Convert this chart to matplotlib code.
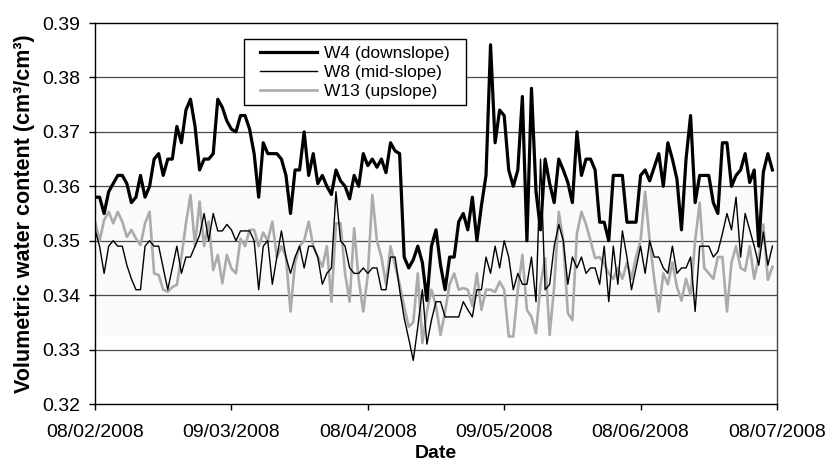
import matplotlib
matplotlib.use("Agg")
import matplotlib.pyplot as plt
import numpy as np
from matplotlib.patches import Rectangle

plt.rcParams['font.family'] = ['Liberation Sans', 'DejaVu Sans']

# daily soil moisture readings, 08/02/2008 - 07/07/2008
date_labels = ['08/02/2008', '09/03/2008', '08/04/2008',
               '09/05/2008', '08/06/2008', '08/07/2008']
label_days = [0, 30, 60, 90, 120, 150]

w4 = [0.358, 0.358, 0.355, 0.359, 0.3605, 0.362, 0.362, 0.3605, 0.357, 0.358,
      0.362, 0.358, 0.360, 0.365, 0.366, 0.362, 0.365, 0.365, 0.371, 0.368,
      0.374, 0.376, 0.371, 0.363, 0.365, 0.365, 0.366, 0.376, 0.3745, 0.372,
      0.3705, 0.370, 0.373, 0.373, 0.3705, 0.366, 0.358, 0.368, 0.366, 0.366,
      0.366, 0.365, 0.362, 0.355, 0.363, 0.363, 0.370, 0.362, 0.366, 0.3605,
      0.362, 0.360, 0.3585, 0.363, 0.361, 0.360, 0.3577, 0.362, 0.360, 0.366,
      0.3638, 0.365, 0.3635, 0.365, 0.3625, 0.368, 0.3665, 0.366, 0.347, 0.345,
      0.3465, 0.349, 0.346, 0.339, 0.349, 0.352, 0.3455, 0.341, 0.347, 0.347,
      0.3535, 0.355, 0.352, 0.358, 0.350, 0.3565, 0.362, 0.386, 0.368, 0.374,
      0.373, 0.363, 0.360, 0.363, 0.3765, 0.350, 0.378, 0.359, 0.352, 0.365,
      0.3605, 0.357, 0.365, 0.363, 0.3607, 0.357, 0.370, 0.362, 0.365, 0.365,
      0.363, 0.3534, 0.3534, 0.350, 0.362, 0.362, 0.362, 0.3534, 0.3534, 0.3534,
      0.362, 0.363, 0.361, 0.3635, 0.366, 0.360, 0.368, 0.365, 0.3613, 0.352,
      0.365, 0.373, 0.357, 0.362, 0.362, 0.362, 0.357, 0.355, 0.368, 0.368,
      0.360, 0.362, 0.363, 0.366, 0.3607, 0.363, 0.349, 0.3626, 0.366, 0.363]

w8 = [0.352, 0.349, 0.344, 0.349, 0.350, 0.349, 0.349, 0.3455, 0.343, 0.341,
      0.341, 0.349, 0.350, 0.349, 0.349, 0.345, 0.341, 0.345, 0.349, 0.344,
      0.347, 0.347, 0.349, 0.351, 0.355, 0.350, 0.355, 0.3518, 0.3518, 0.353,
      0.352, 0.350, 0.3518, 0.3518, 0.3518, 0.350, 0.341, 0.349, 0.350, 0.342,
      0.347, 0.3518, 0.347, 0.344, 0.347, 0.349, 0.345, 0.349, 0.349, 0.347,
      0.342, 0.344, 0.345, 0.359, 0.350, 0.349, 0.345, 0.344, 0.344, 0.345,
      0.344, 0.345, 0.345, 0.341, 0.341, 0.347, 0.347, 0.341, 0.3358, 0.332,
      0.328, 0.3342, 0.341, 0.331, 0.3354, 0.3388, 0.3388, 0.336, 0.336, 0.336,
      0.336, 0.3388, 0.3373, 0.336, 0.341, 0.341, 0.347, 0.344, 0.349, 0.345,
      0.350, 0.347, 0.341, 0.344, 0.342, 0.342, 0.347, 0.3388, 0.365, 0.341,
      0.342, 0.349, 0.353, 0.350, 0.342, 0.347, 0.345, 0.347, 0.344, 0.345,
      0.345, 0.342, 0.349, 0.3388, 0.349, 0.342, 0.3518, 0.347, 0.341, 0.345,
      0.349, 0.344, 0.350, 0.347, 0.347, 0.345, 0.344, 0.349, 0.344, 0.345,
      0.345, 0.347, 0.337, 0.349, 0.349, 0.349, 0.347, 0.348, 0.3513, 0.355,
      0.352, 0.358, 0.347, 0.355, 0.352, 0.349, 0.3455, 0.3516, 0.3455, 0.349]

w13 = [0.3535, 0.350, 0.3538, 0.3553, 0.3532, 0.3553, 0.3535, 0.3507, 0.352, 0.3504,
       0.3492, 0.3532, 0.3553, 0.344, 0.3437, 0.341, 0.3406, 0.3415, 0.3419, 0.347,
       0.3532, 0.3584, 0.349, 0.3572, 0.349, 0.3535, 0.3446, 0.3474, 0.3422, 0.3474,
       0.3449, 0.344, 0.3504, 0.349, 0.352, 0.352, 0.349, 0.3515, 0.350, 0.3535,
       0.347, 0.349, 0.347, 0.337, 0.346, 0.349, 0.350, 0.3535, 0.349, 0.347,
       0.3452, 0.349, 0.3388, 0.3532, 0.3532, 0.344, 0.3388, 0.3523, 0.3428, 0.337,
       0.3437, 0.3584, 0.350, 0.347, 0.342, 0.349, 0.3455, 0.342, 0.3379, 0.3342,
       0.335, 0.344, 0.3312, 0.337, 0.341, 0.338, 0.3327, 0.337, 0.342, 0.344,
       0.341, 0.3413, 0.341, 0.338, 0.344, 0.3373, 0.341, 0.341, 0.3406, 0.3425,
       0.341, 0.3324, 0.3324, 0.341, 0.3474, 0.3373, 0.336, 0.333, 0.342, 0.3468,
       0.3327, 0.3416, 0.3553, 0.350, 0.3367, 0.3354, 0.3513, 0.3553, 0.353, 0.350,
       0.3468, 0.347, 0.3458, 0.344, 0.343, 0.345, 0.343, 0.346, 0.343, 0.347,
       0.350, 0.359, 0.350, 0.343, 0.337, 0.344, 0.342, 0.346, 0.3415, 0.339,
       0.343, 0.340, 0.350, 0.357, 0.345, 0.344, 0.343, 0.347, 0.347, 0.337,
       0.346, 0.349, 0.345, 0.3445, 0.349, 0.343, 0.347, 0.353, 0.3428, 0.3452]

days = np.arange(len(w4))

fig = plt.figure(figsize=(8.27, 4.63), dpi=100)
ax = fig.add_axes([0.1149, 0.1274, 0.8246, 0.8229])

ax.axhspan(0.3325, 0.36, color='#fafafa', lw=0, zorder=0)
for yv in np.arange(0.33, 0.385, 0.01):
    ax.axhline(yv, color='#4a4a4a', lw=0.9, zorder=1)

l13, = ax.plot(days, w13, color='#ababab', lw=1.9, zorder=2, label='W13 (upslope)')
l8, = ax.plot(days, w8, color='black', lw=1.0, zorder=3, label='W8 (mid-slope)')
l4, = ax.plot(days, w4, color='black', lw=2.3, zorder=4, label='W4 (downslope)')

ax.set_xlim(0, 150)
ax.set_ylim(0.32, 0.39)
ax.set_xticks(label_days)
ax.set_xticklabels(date_labels)
ax.set_yticks(np.arange(0.32, 0.395, 0.01))
ax.yaxis.set_major_formatter(plt.FormatStrFormatter('%.2f'))
ax.tick_params(axis='x', direction='out', length=4.5, width=1, labelsize=14, pad=10)
ax.tick_params(axis='y', direction='out', length=4.5, width=1, labelsize=14, pad=6)

for s in ax.spines.values():
    s.set_color('black')
    s.set_linewidth(1.0)
ax.spines['right'].set_color('#444444')

ax.set_xlabel('Date', fontsize=14, fontweight='bold', labelpad=2.5)
ax.set_ylabel('Volumetric water content (cm³/cm³)', fontsize=15.5,
              fontweight='bold', labelpad=5)

# legend box drawn separately so the inner padding can be wider than tall
ax.add_patch(Rectangle((0.2185, 0.785), 0.3255, 0.173, transform=ax.transAxes,
                       facecolor='white', edgecolor='black', lw=1.0, zorder=5))
leg = ax.legend(handles=[l4, l8, l13], loc='upper left',
                bbox_to_anchor=(0.242, 0.939), fontsize=12.5, frameon=False,
                borderpad=0, labelspacing=0.2, handlelength=3.3,
                handletextpad=0.4, borderaxespad=0)
leg.set_zorder(6)

fig.savefig('out.png', dpi=100)
